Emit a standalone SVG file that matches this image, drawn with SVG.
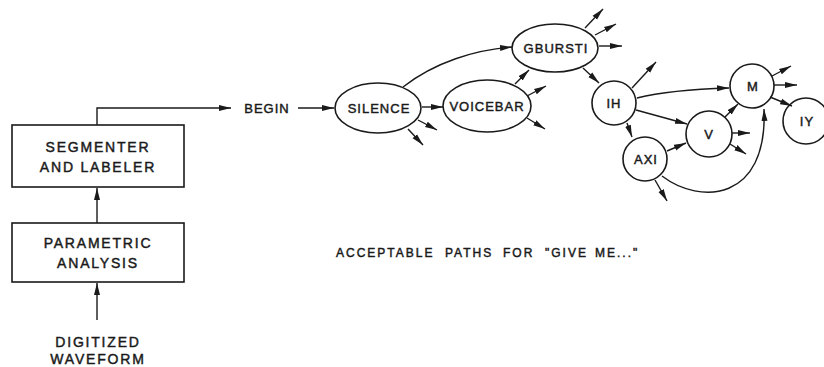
<svg xmlns="http://www.w3.org/2000/svg" width="824" height="367" viewBox="0 0 824 367">
  <style>
    .box { fill: none; stroke: #1a1a1a; stroke-width: 1.6; }
    .node { fill: #fff; stroke: #1a1a1a; stroke-width: 1.6; }
    .edge { fill: none; stroke: #1a1a1a; stroke-width: 1.4; marker-end: url(#ah); }
    .lbl { font-family: "Liberation Sans", Arial, sans-serif; fill: #1a1a1a; stroke: #1a1a1a; stroke-width: 0.45; text-anchor: middle; }
    .big { font-size: 14px; letter-spacing: 1.8px; }
    .nd { font-size: 13px; letter-spacing: 1px; }
    .cap { font-size: 12px; letter-spacing: 2px; text-anchor: start; }
  </style>
  <defs>
    <marker id="ah" viewBox="0 0 12 8" refX="12" refY="4" markerWidth="12" markerHeight="8" markerUnits="userSpaceOnUse" orient="auto">
      <path d="M0,1 L12,4 L0,7 Z" fill="#1a1a1a"/>
    </marker>
  </defs>
  <rect width="824" height="367" fill="#fff"/>

  <!-- processing chain -->
  <g id="segmenter">
    <rect class="box" x="12" y="125" width="172" height="62"/>
    <text class="lbl big" x="98" y="152">SEGMENTER</text>
    <text class="lbl big" x="98" y="172">AND LABELER</text>
  </g>
  <g id="parametric">
    <rect class="box" x="12" y="223" width="172" height="59"/>
    <text class="lbl big" x="98" y="248">PARAMETRIC</text>
    <text class="lbl big" x="98" y="268">ANALYSIS</text>
  </g>
  <g id="waveform">
    <text class="lbl big" x="98" y="347">DIGITIZED</text>
    <text class="lbl big" x="98" y="364">WAVEFORM</text>
  </g>
  <g id="begin">
    <text class="lbl nd" x="267" y="113">BEGIN</text>
  </g>

  <!-- phoneme network -->
  <g id="silence">
    <ellipse class="node" cx="378" cy="108" rx="43" ry="25"/>
    <text class="lbl nd" x="379" y="113">SILENCE</text>
  </g>
  <g id="voicebar">
    <ellipse class="node" cx="487" cy="106" rx="44" ry="26"/>
    <text class="lbl nd" x="487" y="111">VOICEBAR</text>
  </g>
  <g id="gbursti">
    <ellipse class="node" cx="555" cy="48" rx="43" ry="24"/>
    <text class="lbl nd" x="556" y="53">GBURSTI</text>
  </g>
  <g id="ih">
    <circle class="node" cx="614" cy="103" r="22"/>
    <text class="lbl nd" x="614" y="108">IH</text>
  </g>
  <g id="axi">
    <circle class="node" cx="645" cy="159" r="22"/>
    <text class="lbl nd" x="646" y="164">AXI</text>
  </g>
  <g id="v">
    <circle class="node" cx="709" cy="134" r="23"/>
    <text class="lbl nd" x="709" y="139">V</text>
  </g>
  <g id="m">
    <circle class="node" cx="752" cy="86" r="22"/>
    <text class="lbl nd" x="753" y="91">M</text>
  </g>
  <g id="iy">
    <circle class="node" cx="806" cy="121" r="23"/>
    <text class="lbl nd" x="807" y="126">IY</text>
  </g>

  <g id="caption">
    <text class="lbl cap" y="257"><tspan x="336">ACCEPTABLE</tspan><tspan x="445">PATHS</tspan><tspan x="503">FOR</tspan><tspan x="545">"GIVE</tspan><tspan x="595">ME..."</tspan></text>
  </g>

  <g id="connectors">
    <!-- chain -->
    <path class="edge" d="M97,320 L97,283"/>
    <path class="edge" d="M97,223 L97,188"/>
    <path class="edge" d="M97,125 L97,108 L231,108"/>
    <path class="edge" d="M298,108 L334,108"/>
    <!-- silence -->
    <path class="edge" d="M422,107 L443,107"/>
    <path class="edge" d="M403,87 C435,62 475,50 512,47"/>
    <path class="edge" d="M418,120 L437,130"/>
    <path class="edge" d="M408,129 L423,145"/>
    <!-- voicebar -->
    <path class="edge" d="M515,84 L529,70"/>
    <path class="edge" d="M527,96 L546,86"/>
    <path class="edge" d="M527,118 L545,129"/>
    <!-- gbursti -->
    <path class="edge" d="M585,28 L603,9"/>
    <path class="edge" d="M595,35 L616,24"/>
    <path class="edge" d="M599,46 L622,46"/>
    <path class="edge" d="M583,68 L599,83"/>
    <!-- ih -->
    <path class="edge" d="M632,88 L656,62"/>
    <path class="edge" d="M637,98 C665,91 695,89 729,88"/>
    <path class="edge" d="M636,110 L687,124"/>
    <path class="edge" d="M627,123 L632,137"/>
    <!-- axi -->
    <path class="edge" d="M667,151 L686,143"/>
    <path class="edge" d="M655,180 L667,201"/>
    <path class="edge" d="M662,176 C700,205 768,202 764,109"/>
    <!-- v -->
    <path class="edge" d="M725,117 L738,104"/>
    <path class="edge" d="M732,133 L750,133"/>
    <path class="edge" d="M730,144 L746,154"/>
    <!-- m -->
    <path class="edge" d="M772,76 L791,66"/>
    <path class="edge" d="M774,85 L797,85"/>
    <path class="edge" d="M770,97 L792,106"/>
  </g>
</svg>
